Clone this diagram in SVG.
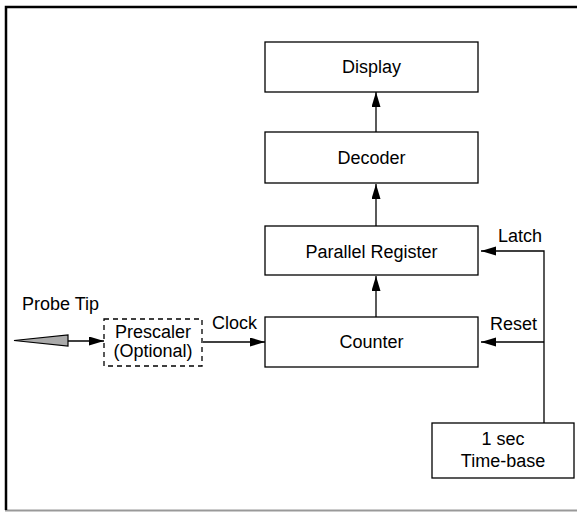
<svg xmlns="http://www.w3.org/2000/svg" width="577" height="512" viewBox="0 0 577 512">
<defs>
<style>
.box{fill:#fff;stroke:#000;stroke-width:1.3}
.dash{fill:#fff;stroke:#000;stroke-width:1.3;stroke-dasharray:5,4}
.t{font-family:"Liberation Sans",Arial,sans-serif;font-size:18px;fill:#000;text-anchor:middle}
.l{font-family:"Liberation Sans",Arial,sans-serif;font-size:18px;fill:#000}
.c{fill:none;stroke:#000;stroke-width:1.3}
</style>
<marker id="ah" markerWidth="16" markerHeight="10" refX="15" refY="4.5" orient="auto" markerUnits="userSpaceOnUse">
<path d="M0,0 L15,4.5 L0,9 z" fill="#000"/>
</marker>
</defs>
<rect width="577" height="512" fill="#fff"/>
<g id="frame">
<line x1="5" y1="510.5" x2="577" y2="510.5" stroke="#999" stroke-width="2"/>
<path d="M6,510 V7 H577" fill="none" stroke="#000" stroke-width="2.5"/>
</g>
<g id="connectors">
<line class="c" x1="376" y1="132" x2="376" y2="92" marker-end="url(#ah)"/>
<line class="c" x1="376" y1="226" x2="376" y2="184" marker-end="url(#ah)"/>
<line class="c" x1="376" y1="317" x2="376" y2="276" marker-end="url(#ah)"/>
<polyline class="c" points="544,423 544,251 481,251" marker-end="url(#ah)"/>
<line class="c" x1="544" y1="342" x2="481" y2="342" marker-end="url(#ah)"/>
<line class="c" x1="203" y1="342" x2="265" y2="342" marker-end="url(#ah)"/>
<line class="c" x1="68" y1="341" x2="104" y2="341" marker-end="url(#ah)"/>
<text class="l" x="498" y="242">Latch</text>
<text class="l" x="490" y="330">Reset</text>
<text class="l" x="212" y="329">Clock</text>
</g>
<g id="display">
<rect class="box" x="265" y="42" width="213" height="50"/>
<text class="t" x="371.5" y="73">Display</text>
</g>
<g id="decoder">
<rect class="box" x="265" y="132" width="213" height="51"/>
<text class="t" x="371.5" y="164">Decoder</text>
</g>
<g id="register">
<rect class="box" x="265" y="226" width="213" height="49"/>
<text class="t" x="371.5" y="258">Parallel Register</text>
</g>
<g id="counter">
<rect class="box" x="265" y="317" width="213" height="50"/>
<text class="t" x="371.5" y="348">Counter</text>
</g>
<g id="timebase">
<rect class="box" x="432" y="423" width="142" height="55"/>
<text class="t" x="503" y="445">1 sec</text>
<text class="t" x="503" y="467">Time-base</text>
</g>
<g id="prescaler">
<rect class="dash" x="104" y="319" width="98" height="47"/>
<text class="t" x="153" y="338">Prescaler</text>
<text class="t" x="153" y="357">(Optional)</text>
</g>
<g id="probe">
<polygon points="14,340.5 68,335 68,346" fill="#aaa" stroke="#000" stroke-width="1.2"/>
<text class="l" x="22" y="310">Probe Tip</text>
</g>
</svg>
